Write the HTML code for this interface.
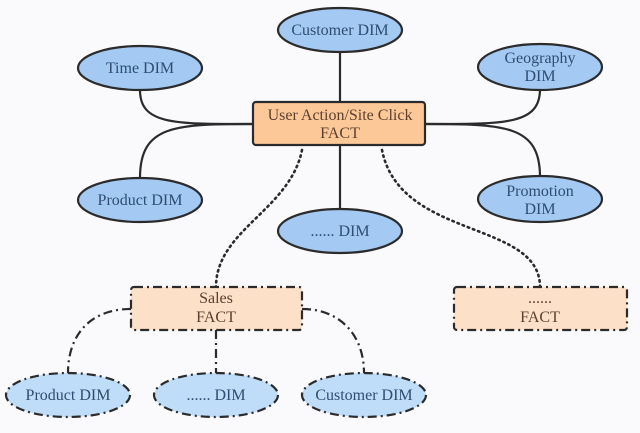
<!DOCTYPE html>
<html><head><style>
html,body{margin:0;padding:0;background:#fafafc;}
svg{display:block}
text{font-family:"Liberation Serif",serif;font-size:16px;text-anchor:middle;}
.d{fill:#a4caf3;stroke:#2b2b2b;stroke-width:2.2}
.b{fill:#bfdcf8;stroke:#2b2b2b;stroke-width:2.2;stroke-dasharray:9 4 2 4}
.l{fill:none;stroke:#2b2b2b;stroke-width:2.2}
.dd{fill:none;stroke:#2b2b2b;stroke-width:2.2;stroke-dasharray:9 4 2 4}
.dot{fill:none;stroke:#2b2b2b;stroke-width:2.6;stroke-dasharray:1.5 4;stroke-linecap:round}
.tb{fill:#2f4d72}
.tf{fill:#5b4030}
</style></head><body>
<svg width="640" height="433" viewBox="0 0 640 433">
<path class="l" d="M340 52V102"/>
<path class="l" d="M140 90C140 125 175 124 253 124"/>
<path class="l" d="M140 178C140 125 175 124 253 124"/>
<path class="l" d="M540 89C540 125 505 124 425 124"/>
<path class="l" d="M540 177C540 125 505 124 425 124"/>
<path class="l" d="M340 145V208"/>
<path class="dot" d="M302 150C290 210 216 230 216 287"/>
<path class="dot" d="M382 150C400 240 540 220 540 287"/>
<path class="dd" d="M131 309C90 309 68 335 68 373"/>
<path class="dd" d="M216 330V373"/>
<path class="dd" d="M302 309C340 309 364 335 364 373"/>
<ellipse class="d" cx="340" cy="30" rx="62" ry="22"/><text class="tb" x="340" y="35">Customer DIM</text>
<ellipse class="d" cx="140" cy="68" rx="62" ry="22"/><text class="tb" x="140" y="73">Time DIM</text>
<ellipse class="d" cx="540" cy="67" rx="62" ry="23"/><text class="tb" x="540" y="63">Geography</text><text class="tb" x="540" y="81">DIM</text>
<ellipse class="d" cx="140" cy="200" rx="62" ry="22"/><text class="tb" x="140" y="205">Product DIM</text>
<ellipse class="d" cx="340" cy="231" rx="62" ry="22"/><text class="tb" x="340" y="236">...... DIM</text>
<ellipse class="d" cx="540" cy="199" rx="62" ry="23"/><text class="tb" x="540" y="196">Promotion</text><text class="tb" x="540" y="214">DIM</text>
<rect x="253" y="102" width="172" height="43" rx="3" fill="#fdc898" stroke="#2b2b2b" stroke-width="2.2"/>
<text class="tf" x="340" y="120">User Action/Site Click</text><text class="tf" x="340" y="138">FACT</text>
<rect x="131" y="287" width="171" height="43" rx="3" class="dd" style="fill:#fde0c8"/>
<text class="tf" x="216" y="303">Sales</text><text class="tf" x="216" y="322">FACT</text>
<rect x="454" y="287" width="173" height="43" rx="3" class="dd" style="fill:#fde0c8"/>
<text class="tf" x="540" y="303">......</text><text class="tf" x="540" y="322">FACT</text>
<ellipse class="b" cx="68" cy="395" rx="62" ry="22"/><text class="tb" x="68" y="400">Product DIM</text>
<ellipse class="b" cx="216" cy="395" rx="62" ry="22"/><text class="tb" x="216" y="400">...... DIM</text>
<ellipse class="b" cx="364" cy="395" rx="62" ry="22"/><text class="tb" x="364" y="400">Customer DIM</text>
</svg>
</body></html>
